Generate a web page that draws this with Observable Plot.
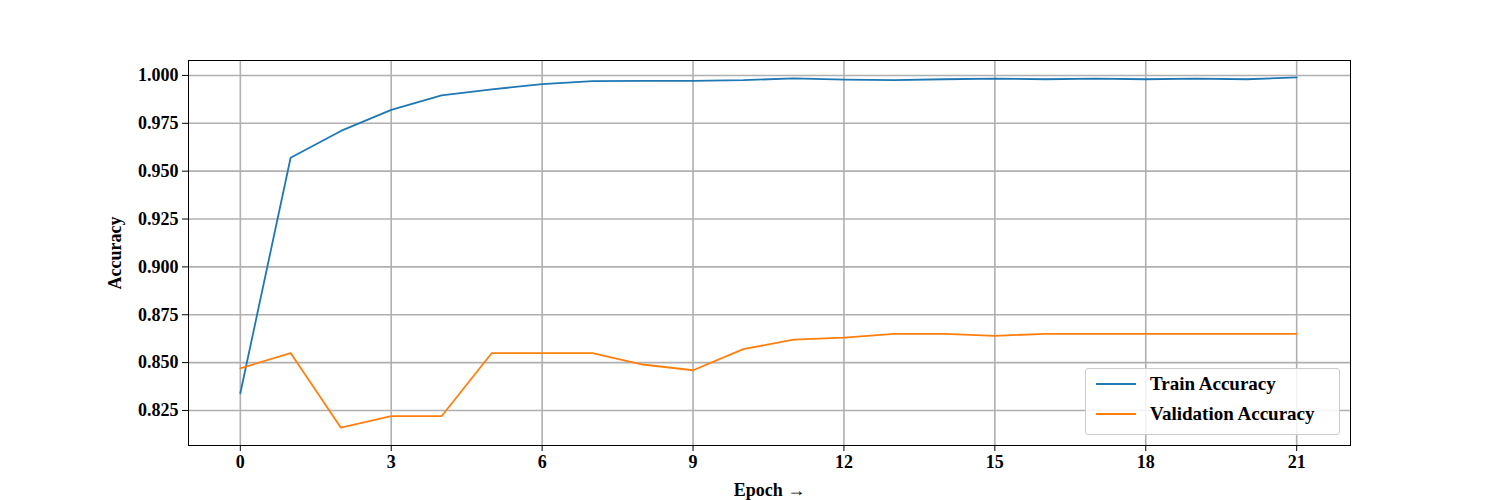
<!DOCTYPE html>
<html>
<head>
<meta charset="utf-8">
<script src="https://cdn.jsdelivr.net/npm/d3@7"></script>
<script src="https://cdn.jsdelivr.net/npm/@observablehq/plot@0.6"></script>
<style>
  body { margin: 0; background: #fff; }
  #wrap { position: relative; width: 1500px; height: 500px; font-family: "Liberation Serif", "Times New Roman", serif; font-weight: bold; }
  #legend { position: absolute; left: 1085px; top: 368px; width: 253px; height: 65px; border: 1px solid #ccc; border-radius: 3px; background: rgba(255,255,255,0.85); font-size: 19px; }
  .row { position: absolute; left: 10px; display: flex; align-items: center; }
  .sw { width: 40px; height: 0; border-top: 2px solid; margin-right: 14px; }
</style>
</head>
<body>
<div id="wrap">
  <div id="chart"></div>
  <div id="legend">
    <div class="row" style="top:4px"><span class="sw" style="border-color:#1f77b4"></span>Train Accuracy</div>
    <div class="row" style="top:34px"><span class="sw" style="border-color:#ff7f0e"></span>Validation Accuracy</div>
  </div>
</div>
<script>
const epochs = d3.range(22)
const trainAcc = [0.834, 0.957, 0.971, 0.982, 0.9896, 0.9927, 0.9955, 0.997, 0.9972, 0.9972, 0.9975,
  0.9985, 0.9978, 0.9975, 0.998, 0.9983, 0.998, 0.9983, 0.998, 0.9983, 0.998, 0.999]
const valAcc = [0.847, 0.855, 0.816, 0.822, 0.822, 0.855, 0.855, 0.855, 0.849, 0.846, 0.857,
  0.862, 0.863, 0.865, 0.865, 0.864, 0.865, 0.865, 0.865, 0.865, 0.865, 0.865]
const xTicks = [0, 3, 6, 9, 12, 15, 18, 21]
const yTicks = [0.825, 0.85, 0.875, 0.9, 0.925, 0.95, 0.975, 1.0]

const rows = epochs.flatMap(e => [
  {epoch: e, acc: trainAcc[e], series: 'Train Accuracy'},
  {epoch: e, acc: valAcc[e], series: 'Validation Accuracy'}
])

const chart = Plot.plot({
  width: 1500,
  height: 500,
  marginLeft: 188,
  marginRight: 150,
  marginTop: 60,
  marginBottom: 55,
  style: {fontFamily: '"Liberation Serif", "Times New Roman", serif', fontSize: '18px', fontWeight: 'bold', color: '#000'},
  x: {domain: [-1.03, 22.07], ticks: xTicks, label: null},
  y: {domain: [0.8067, 1.0078], ticks: yTicks, tickFormat: d3.format('.3f'), label: null},
  color: {domain: ['Train Accuracy', 'Validation Accuracy'], range: ['#1f77b4', '#ff7f0e']},
  marks: [
    Plot.gridX(xTicks, {stroke: '#b0b0b0', strokeOpacity: 1, strokeWidth: 1.6}),
    Plot.gridY(yTicks, {stroke: '#b0b0b0', strokeOpacity: 1, strokeWidth: 1.6}),
    Plot.axisX(xTicks, {tickSize: 6, tickPadding: 4, fontSize: 18, label: 'Epoch', labelAnchor: 'center', labelOffset: 50}),
    Plot.axisY(yTicks, {tickSize: 6, tickPadding: 4, fontSize: 18, tickFormat: d3.format('.3f'), label: 'Accuracy', labelAnchor: 'center', labelOffset: 80, labelArrow: 'none'}),
    Plot.line(rows, {x: 'epoch', y: 'acc', stroke: 'series', strokeWidth: 1.8}),
    Plot.frame({stroke: '#000', strokeWidth: 1})
  ]
})
document.getElementById('chart').append(chart)
</script>
</body>
</html>
